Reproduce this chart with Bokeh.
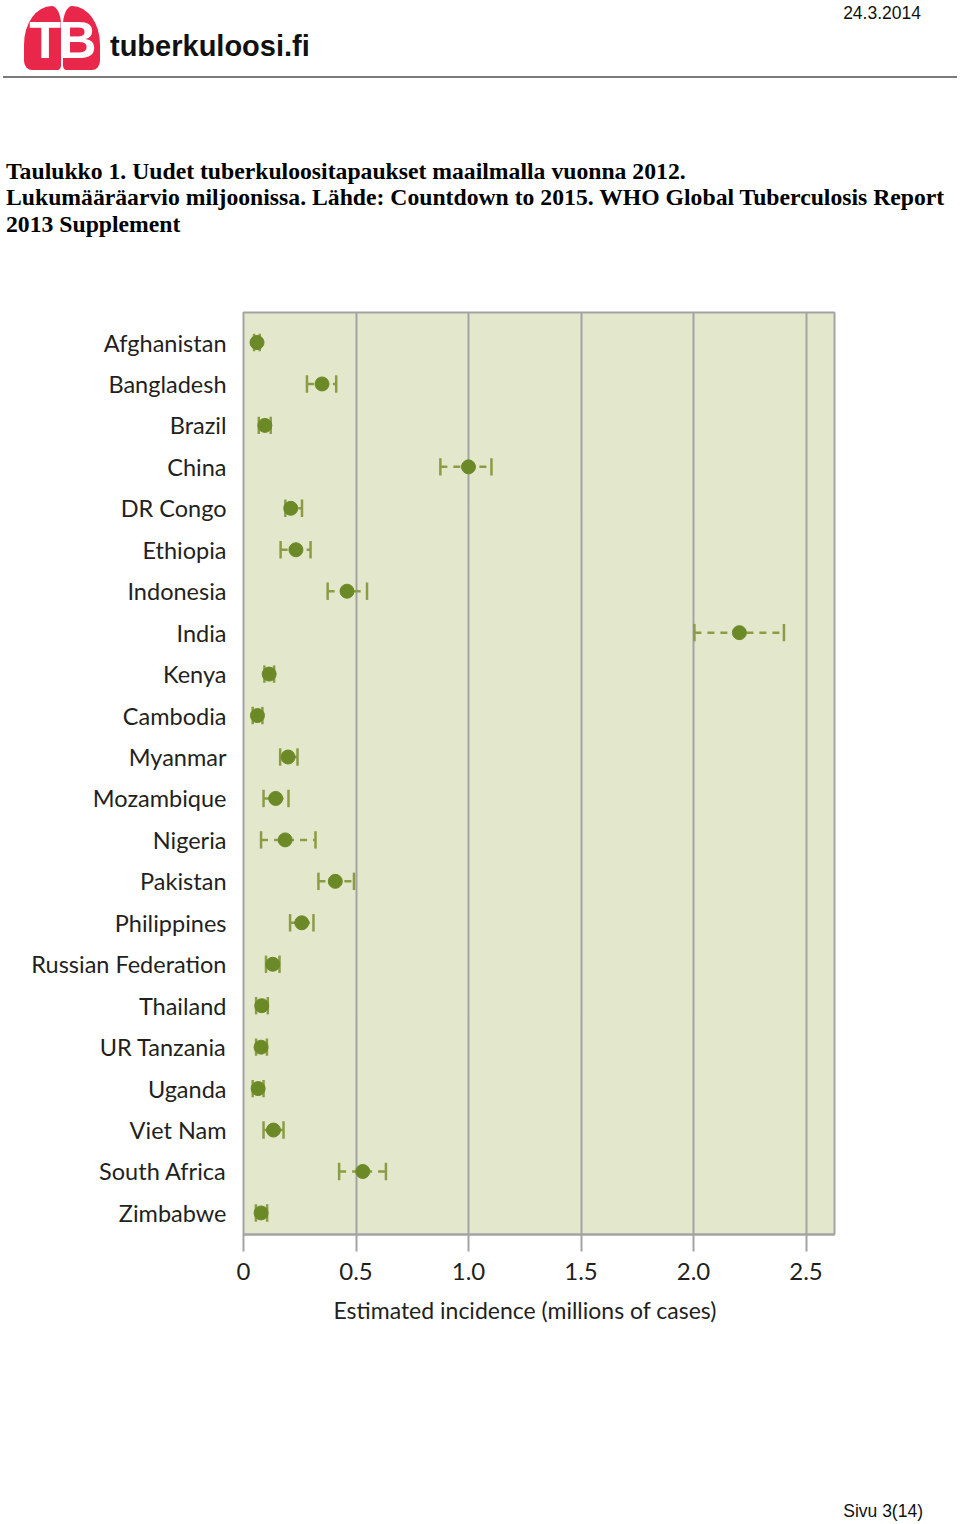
from bokeh.plotting import figure
from bokeh.models import Range1d, FixedTicker, NumeralTickFormatter, Div, Title
from bokeh.layouts import column
from bokeh.embed import file_html
from bokeh.resources import INLINE

# ---------------- data ----------------
countries = ["Afghanistan", "Bangladesh", "Brazil", "China", "DR Congo", "Ethiopia",
             "Indonesia", "India", "Kenya", "Cambodia", "Myanmar", "Mozambique",
             "Nigeria", "Pakistan", "Philippines", "Russian Federation", "Thailand",
             "UR Tanzania", "Uganda", "Viet Nam", "South Africa", "Zimbabwe"]
estimate = [0.060, 0.349, 0.095, 1.000, 0.210, 0.233, 0.460, 2.204, 0.114, 0.062, 0.198,
            0.143, 0.185, 0.408, 0.259, 0.130, 0.081, 0.078, 0.065, 0.133, 0.530, 0.078]
low = [0.047, 0.282, 0.068, 0.875, 0.186, 0.165, 0.374, 2.004, 0.093, 0.041, 0.163,
       0.089, 0.078, 0.333, 0.207, 0.100, 0.056, 0.056, 0.041, 0.089, 0.425, 0.055]
high = [0.072, 0.412, 0.121, 1.102, 0.260, 0.298, 0.549, 2.402, 0.136, 0.084, 0.240,
        0.200, 0.320, 0.491, 0.311, 0.160, 0.108, 0.104, 0.089, 0.178, 0.633, 0.105]
x_ticks = [0, 0.5, 1.0, 1.5, 2.0, 2.5]
x_tick_labels = ["0", "0.5", "1.0", "1.5", "2.0", "2.5"]
x_label = "Estimated incidence (millions of cases)"

title_lines = ["Taulukko 1. Uudet tuberkuloositapaukset maailmalla vuonna 2012.",
               "Lukumääräarvio miljoonissa. Lähde: Countdown to 2015. WHO Global Tuberculosis Report",
               "2013 Supplement"]
date_text = "24.3.2014"
site_text = "tuberkuloosi.fi"
page_text = "Sivu 3(14)"

W = 960
DOT = "#6b8a27"
WHISK = "#8b9c45"
GRID = "#a3a3a3"
BG = "#e3e8cc"
RED = "#e8274b"

# ---------------- header (HTML) ----------------
title_html = "".join(
    f'<div style="position:absolute;left:6px;top:{c - 14}px;height:28px;line-height:28px;'
    f'white-space:nowrap;font-family:\'Liberation Serif\';font-weight:bold;font-size:23.7px;'
    f'color:#000;">{t}</div>'
    for t, c in zip(title_lines, [171, 197, 224]))

header_html = f"""
<div style="position:relative;width:960px;height:300px;margin:0;padding:0;">
  <div style="position:absolute;left:24px;top:6px;width:37px;height:64px;background:{RED};
       border-radius:75% 25% 8% 22% / 60% 30% 8% 14%;"></div>
  <div style="position:absolute;left:63px;top:6px;width:37px;height:64px;background:{RED};
       border-radius:25% 75% 22% 8% / 30% 60% 14% 8%;"></div>
  <div style="position:absolute;left:24px;top:14px;width:76px;height:52px;line-height:52px;
       text-align:center;font-family:'Liberation Sans';font-weight:bold;font-size:52px;
       color:#fff;letter-spacing:-2px;">TB</div>
  <div style="position:absolute;left:110px;top:30px;height:32px;line-height:32px;
       font-family:'Liberation Sans';font-weight:bold;font-size:29px;color:#111;
       white-space:nowrap;">{site_text}</div>
  <div style="position:absolute;right:39px;top:3px;height:20px;line-height:20px;
       font-family:'Liberation Sans';font-size:17.5px;color:#111;white-space:nowrap;">{date_text}</div>
  <div style="position:absolute;left:3px;top:76px;width:954px;height:2px;background:#7a7a7a;"></div>
  {title_html}
</div>
"""
hdr = Div(text=header_html, width=W, height=300, margin=0)

# ---------------- chart ----------------
idx = list(range(len(countries)))
p = figure(width=W, height=1180, x_range=Range1d(0, 591 / 225),
           y_range=Range1d(21.52, -0.724),
           output_backend="svg", toolbar_location=None,
           min_border_left=243, min_border_right=126, min_border_top=12, min_border_bottom=246,
           background_fill_color=BG, border_fill_color="white",
           outline_line_color=GRID, outline_line_width=2)

p.xgrid.ticker = FixedTicker(ticks=x_ticks[1:])
p.xgrid.grid_line_color = GRID
p.xgrid.grid_line_width = 2
p.ygrid.visible = False

p.xaxis.ticker = FixedTicker(ticks=x_ticks)
p.xaxis.major_label_overrides = {t: s for t, s in zip(x_ticks, x_tick_labels)}
p.xaxis.formatter = NumeralTickFormatter(format="0.0")
p.xaxis.axis_line_color = GRID
p.xaxis.axis_line_width = 2
p.xaxis.major_tick_line_color = GRID
p.xaxis.major_tick_line_width = 2
p.xaxis.major_tick_in = 0
p.xaxis.major_tick_out = 17
p.xaxis.minor_tick_line_color = None
p.xaxis.major_label_standoff = 11
p.xaxis.major_label_text_font = "Lato"
p.xaxis.major_label_text_font_size = "24px"
p.xaxis.major_label_text_color = "#231f20"

# axis title, placed below the axis (left-aligned offset to match the reference)
p.add_layout(Title(text=x_label, align="left", offset=90, text_font="Lato",
                   text_font_style="normal", text_font_size="23px",
                   text_color="#231f20", standoff=22), "below")

p.yaxis.ticker = FixedTicker(ticks=idx)
p.yaxis.major_label_overrides = {i: c for i, c in zip(idx, countries)}
p.yaxis.axis_line_color = None
p.yaxis.major_tick_line_color = None
p.yaxis.major_tick_out = 0
p.yaxis.major_tick_in = 0
p.yaxis.minor_tick_line_color = None
p.yaxis.major_label_standoff = 17
p.yaxis.major_label_text_font = "Lato"
p.yaxis.major_label_text_font_size = "23.5px"
p.yaxis.major_label_text_color = "#231f20"

cap = 0.21
p.segment(x0=low, y0=idx, x1=high, y1=idx, line_color=WHISK, line_width=2.5, line_dash="7 6")
p.segment(x0=low, y0=[i - cap for i in idx], x1=low, y1=[i + cap for i in idx],
          line_color=WHISK, line_width=2.5)
p.segment(x0=high, y0=[i - cap for i in idx], x1=high, y1=[i + cap for i in idx],
          line_color=WHISK, line_width=2.5)
p.scatter(x=estimate, y=idx, size=14, fill_color=DOT, line_color=DOT)

# ---------------- footer (HTML) ----------------
footer_html = f"""
<div style="position:relative;width:960px;height:44px;margin:0;padding:0;">
  <div style="position:absolute;right:37px;top:21px;height:20px;line-height:20px;
       font-family:'Liberation Sans';font-size:17.5px;color:#111;white-space:nowrap;">{page_text}</div>
</div>
"""
ftr = Div(text=footer_html, width=W, height=44, margin=0)

layout = column(hdr, p, ftr, spacing=0)
open("out.html", "w").write(file_html(layout, INLINE))
